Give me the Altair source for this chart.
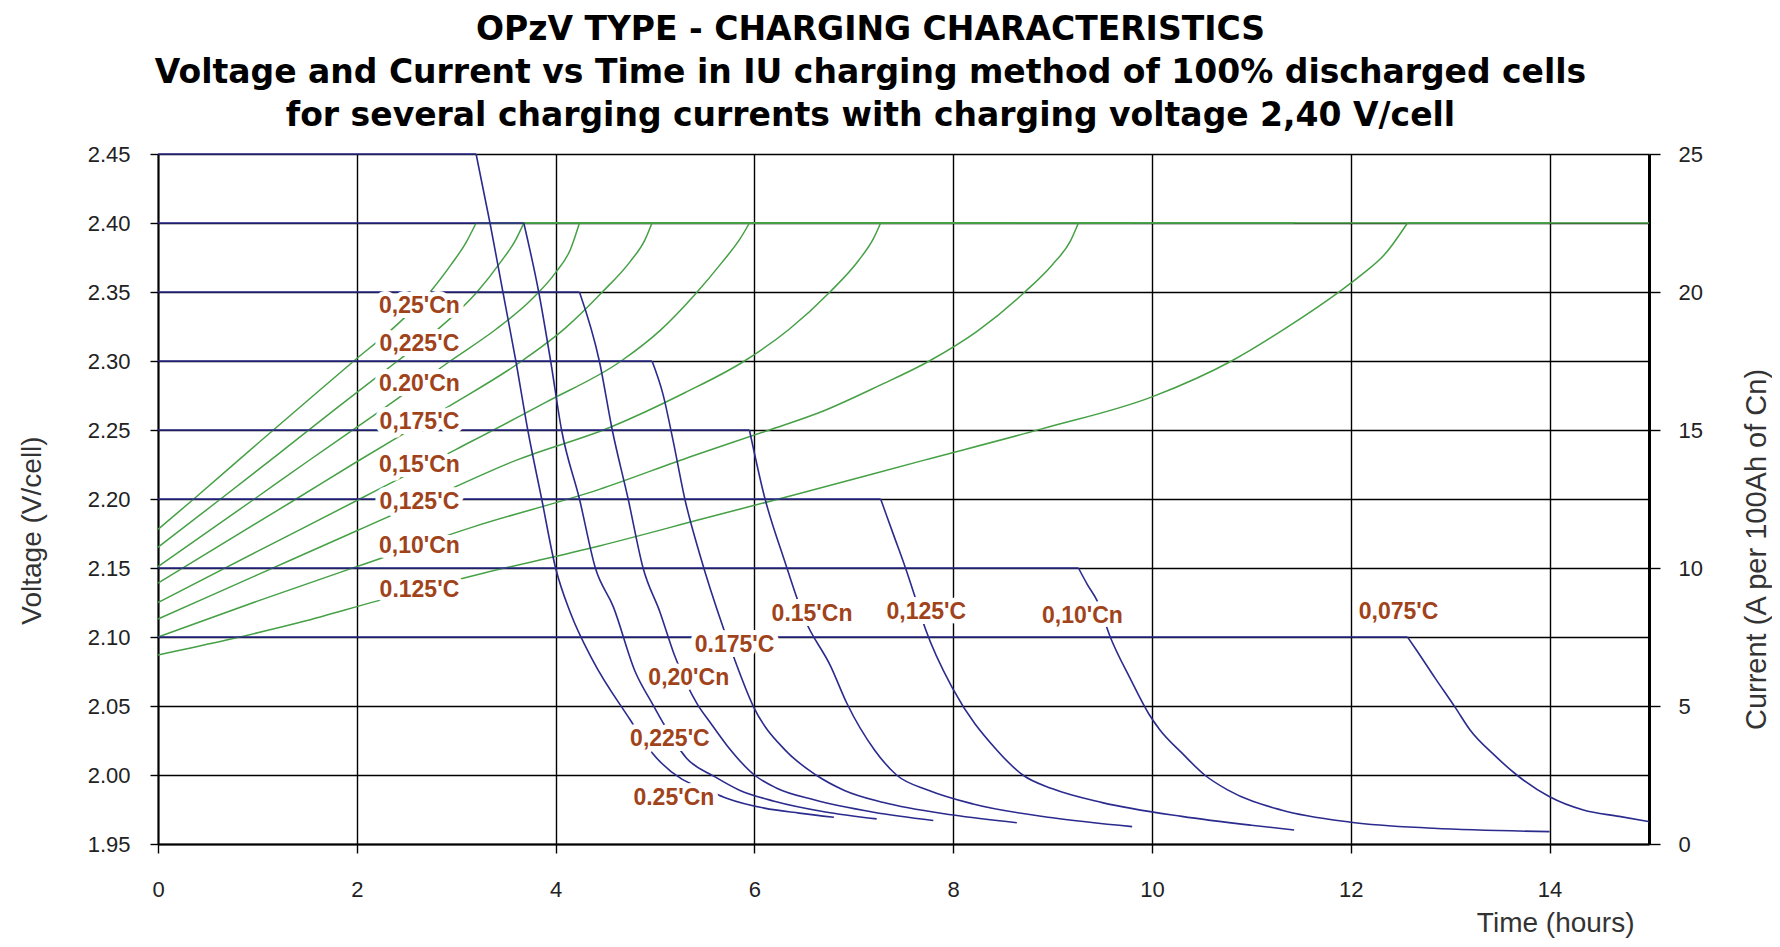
import altair as alt
import pandas as pd

# ---------------- axis values ----------------
x_ticks = [0, 2, 4, 6, 8, 10, 12, 14]
v_ticks = [1.95, 2.00, 2.05, 2.10, 2.15, 2.20, 2.25, 2.30, 2.35, 2.40, 2.45]
i_ticks = [0, 5, 10, 15, 20, 25]

# ---------------- series meta ----------------
rates = ["0.25", "0.225", "0.20", "0.175", "0.15", "0.125", "0.10", "0.075"]
start_current = [25, 22.5, 20, 17.5, 15, 12.5, 10, 7.5]
charge_voltage = 2.40
knee_time = [3.2, 3.68, 4.24, 4.97, 5.95, 7.27, 9.26, 12.57]
end_time = [6.8, 7.23, 7.8, 8.64, 9.8, 11.43, 14.0, 15.0]

# ---------------- voltage curves (until 2.40 V is reached) ----------------
v_t_025 = [0, 0.36, 1.0, 1.5, 1.97, 2.4, 2.76, 2.95, 3.1, 3.2]
v_v_025 = [2.178, 2.20, 2.240, 2.271, 2.30, 2.326, 2.352, 2.370, 2.386, 2.40]
v_t_0225 = [0, 0.63, 1.2, 1.8, 2.41, 2.8, 3.21, 3.45, 3.6, 3.68]
v_v_0225 = [2.165, 2.20, 2.232, 2.266, 2.30, 2.322, 2.35, 2.372, 2.388, 2.40]
v_t_020 = [0, 0.97, 1.5, 2.2, 2.94, 3.4, 3.75, 4.0, 4.15, 4.24]
v_v_020 = [2.151, 2.20, 2.227, 2.262, 2.30, 2.323, 2.344, 2.364, 2.381, 2.40]
v_t_0175 = [0, 1.39, 2.0, 2.9, 3.66, 4.1, 4.47, 4.75, 4.9, 4.97]
v_v_0175 = [2.139, 2.20, 2.227, 2.266, 2.30, 2.324, 2.35, 2.372, 2.388, 2.40]
v_t_015 = [0, 1.0, 2.03, 3.0, 3.9, 4.66, 5.05, 5.4, 5.68, 5.86, 5.95]
v_v_015 = [2.125, 2.162, 2.20, 2.236, 2.27, 2.30, 2.322, 2.348, 2.372, 2.389, 2.40]
v_t_0125 = [0, 1.0, 2.0, 2.72, 3.6, 4.55, 5.3, 5.9, 6.35, 6.76, 7.05, 7.2, 7.27]
v_v_0125 = [2.113, 2.145, 2.177, 2.20, 2.228, 2.252, 2.277, 2.30, 2.323, 2.35, 2.373, 2.389, 2.40]
v_t_010 = [0, 1.0, 2.0, 3.18, 4.44, 5.37, 6.15, 6.7, 7.25, 7.76, 8.25, 8.72, 9.0, 9.18, 9.26]
v_v_010 = [2.100, 2.126, 2.151, 2.180, 2.207, 2.231, 2.25, 2.264, 2.282, 2.30, 2.322, 2.35, 2.37, 2.387, 2.40]
v_t_0075 = [0, 0.7, 1.45, 2.2, 3.2, 4.44, 5.5, 6.35, 7.7, 8.9, 10.0, 10.8, 11.35, 11.9, 12.1, 12.35, 12.57]
v_v_0075 = [2.087, 2.098, 2.111, 2.126, 2.145, 2.166, 2.186, 2.202, 2.228, 2.251, 2.274, 2.30, 2.324, 2.351, 2.362, 2.378, 2.40]

# ---------------- current curves (after the knee) ----------------
i_t_025 = [3.2, 3.34, 3.47, 3.6, 3.72, 3.86, 4.0, 4.15, 4.37, 4.75, 4.96, 5.27, 5.5, 5.72, 6.1, 6.45, 6.8]
i_i_025 = [25, 22.5, 20, 17.5, 15, 12.5, 10, 8.37, 6.68, 4.5, 3.35, 2.35, 2.0, 1.66, 1.3, 1.12, 0.97]
i_t_0225 = [3.68, 3.83, 3.95, 4.06, 4.24, 4.4, 4.58, 4.8, 4.98, 5.08, 5.32, 5.6, 5.85, 6.2, 6.7, 7.23]
i_i_0225 = [22.5, 20, 17.5, 15, 12.5, 10, 8.6, 6.25, 5.04, 4.4, 3.1, 2.44, 1.95, 1.55, 1.17, 0.91]
i_t_020 = [4.24, 4.44, 4.57, 4.73, 4.88, 5.05, 5.2, 5.43, 5.55, 5.72, 6.0, 6.22, 6.6, 7.2, 7.8]
i_i_020 = [20, 17.5, 15, 12.5, 10, 8.4, 6.8, 5.04, 4.43, 3.59, 2.5, 2.03, 1.6, 1.15, 0.85]
i_t_0175 = [4.97, 5.08, 5.18, 5.3, 5.45, 5.69, 5.79, 5.99, 6.31, 6.62, 6.9, 7.3, 8.0, 8.64]
i_i_0175 = [17.5, 16.3, 14.65, 12.5, 10.5, 7.8, 6.79, 4.98, 3.4, 2.5, 1.95, 1.5, 1.05, 0.77]
i_t_015 = [5.95, 6.1, 6.3, 6.5, 6.77, 6.93, 7.21, 7.43, 7.75, 8.2, 9.0, 9.8]
i_i_015 = [15, 12.6, 10.3, 8.2, 6.42, 5.1, 3.4, 2.5, 1.95, 1.45, 0.95, 0.63]
i_t_0125 = [7.27, 7.4, 7.52, 7.63, 7.72, 8.0, 8.44, 8.7, 9.0, 9.5, 10.3, 11.0, 11.43]
i_i_0125 = [12.5, 11.2, 10.0, 8.8, 7.8, 5.6, 3.4, 2.5, 2.0, 1.5, 1.0, 0.68, 0.51]
i_t_010 = [9.26, 9.35, 9.45, 9.58, 9.78, 9.97, 10.08, 10.3, 10.53, 10.76, 11.3, 12.0, 12.83, 14.0]
i_i_010 = [10, 9.4, 8.8, 7.5, 6.0, 4.7, 4.13, 3.3, 2.5, 1.96, 1.23, 0.79, 0.57, 0.45]
i_t_0075 = [12.57, 12.66, 12.85, 13.05, 13.2, 13.45, 13.67, 14.0, 14.34, 14.7, 15.0]
i_i_0075 = [7.5, 7.03, 6.0, 4.95, 4.13, 3.2, 2.5, 1.71, 1.23, 1.0, 0.81]

# ---------------- labels ----------------
label_text = ["0,25'Cn", "0,225'C", "0.20'Cn", "0,175'C", "0,15'Cn", "0,125'C", "0,10'Cn", "0.125'C",
              "0.15'Cn", "0,125'C", "0,10'Cn", "0,075'C", "0.175'C", "0,20'Cn", "0,225'C", "0.25'Cn"]
label_t = [2.63, 2.63, 2.63, 2.63, 2.63, 2.63, 2.63, 2.63,
           6.58, 7.73, 9.30, 12.48, 5.80, 5.34, 5.15, 5.19]
label_v = [2.340, 2.312, 2.283, 2.2556, 2.225, 2.198, 2.166, 2.134,
           2.117, 2.118, 2.115, 2.118, 2.094, 2.070, 2.026, 1.983]

title_lines = ["OPzV TYPE - CHARGING CHARACTERISTICS",
               "Voltage and Current vs Time in IU charging method of 100% discharged cells",
               "for several charging currents with charging voltage 2,40 V/cell"]

# ---------------- tables ----------------
v_curves = [(v_t_025, v_v_025), (v_t_0225, v_v_0225), (v_t_020, v_v_020), (v_t_0175, v_v_0175),
            (v_t_015, v_v_015), (v_t_0125, v_v_0125), (v_t_010, v_v_010), (v_t_0075, v_v_0075)]
i_curves = [(i_t_025, i_i_025), (i_t_0225, i_i_0225), (i_t_020, i_i_020), (i_t_0175, i_i_0175),
            (i_t_015, i_i_015), (i_t_0125, i_i_0125), (i_t_010, i_i_010), (i_t_0075, i_i_0075)]

v_rows, i_rows = [], []
for k, (name, (ts, vs)) in enumerate(zip(rates, v_curves)):
    for t, v in zip(ts, vs):
        v_rows.append({"t": t, "v": v, "seg": name + " cc"})
    v_rows.append({"t": knee_time[k], "v": charge_voltage, "seg": name + " cv"})
    v_rows.append({"t": end_time[k], "v": charge_voltage, "seg": name + " cv"})
for k, (name, (ts, cs)) in enumerate(zip(rates, i_curves)):
    i_rows.append({"t": 0, "i": start_current[k], "seg": name + " cc"})
    i_rows.append({"t": knee_time[k], "i": start_current[k], "seg": name + " cc"})
    for t, c in zip(ts, cs):
        i_rows.append({"t": t, "i": c, "seg": name + " cv"})
v_df = pd.DataFrame(v_rows)
i_df = pd.DataFrame(i_rows)
lab_df = pd.DataFrame({"t": label_t, "v": label_v, "label": label_text})

LAB = "Liberation Sans"

x_enc = alt.X("t:Q", scale=alt.Scale(domain=[0, 15], nice=False),
              axis=alt.Axis(values=x_ticks, grid=True, gridColor="black", gridWidth=1.4,
                            domainColor="black", domainWidth=2, tickColor="black", tickSize=9,
                            tickWidth=1.4, labelFont=LAB, labelFontSize=22, labelColor="#222",
                            labelPadding=26, labelFlush=False,
                            title="Time (hours)", titleFont=LAB, titleFontSize=28,
                            titleFontWeight="normal", titleColor="#333", titleAlign="right",
                            titleX=1476, titleY=79, titleBaseline="middle"))

y_v = alt.Y("v:Q", scale=alt.Scale(domain=[1.95, 2.45], nice=False, zero=False),
            axis=alt.Axis(values=v_ticks, format=".2f", grid=True, gridColor="black", gridWidth=1.4,
                          domainColor="black", domainWidth=2, tickColor="black", tickSize=8,
                          tickWidth=1.4, labelFont=LAB, labelFontSize=22, labelColor="#222",
                          labelPadding=20, title="Voltage (V/cell)", titleFont=LAB,
                          titleFontSize=28, titleFontWeight="normal", titleColor="#333",
                          titleX=-126, titleY=376, titleBaseline="middle", titleAngle=270))

y_lab = alt.Y("v:Q", scale=alt.Scale(domain=[1.95, 2.45], nice=False, zero=False), axis=None)

y_i = alt.Y("i:Q", scale=alt.Scale(domain=[0, 25], nice=False),
            axis=alt.Axis(orient="right", values=i_ticks, grid=False, domainColor="black",
                          domainWidth=3, tickColor="black", tickSize=11, tickWidth=1.4,
                          labelFont=LAB, labelFontSize=22, labelColor="#222", labelPadding=18,
                          title="Current (A per 100Ah of Cn)", titleFont=LAB, titleFontSize=29,
                          titleFontWeight="normal", titleColor="#333", titleAngle=270,
                          titleX=107, titleY=395, titleBaseline="middle"))

v_lines = alt.Chart(v_df).mark_line(color="#46a046", strokeWidth=1.5, interpolate="monotone").encode(
    x=x_enc, y=y_v, detail="seg:N")
i_lines = alt.Chart(i_df).mark_line(color="#2b2b8e", strokeWidth=1.6, interpolate="monotone").encode(
    x=x_enc, y=y_i, detail="seg:N")
halo = alt.Chart(lab_df).mark_text(font=LAB, fontSize=23, fontWeight="bold", color="white",
                                   stroke="white", strokeWidth=10, strokeJoin="round").encode(
    x=x_enc, y=y_lab, text="label:N")
labels = alt.Chart(lab_df).mark_text(font=LAB, fontSize=23, fontWeight="bold", color="#a0431a").encode(
    x=x_enc, y=y_lab, text="label:N")

chart = alt.layer(v_lines, i_lines, halo, labels).resolve_scale(y="independent").properties(
    width=1491, height=690,
    autosize=alt.AutoSizeParams(type="none"),
    padding={"left": 150, "top": 146, "right": 123, "bottom": 95},
    title=alt.TitleParams(text=title_lines, font="DejaVu Sans", fontSize=33, fontWeight="bold",
                          color="black", lineHeight=43, anchor="middle", frame="group",
                          dx=-33, offset=10),
).configure_view(stroke=None)

chart.save("out.html", embed_options={"renderer": "svg", "actions": False})
